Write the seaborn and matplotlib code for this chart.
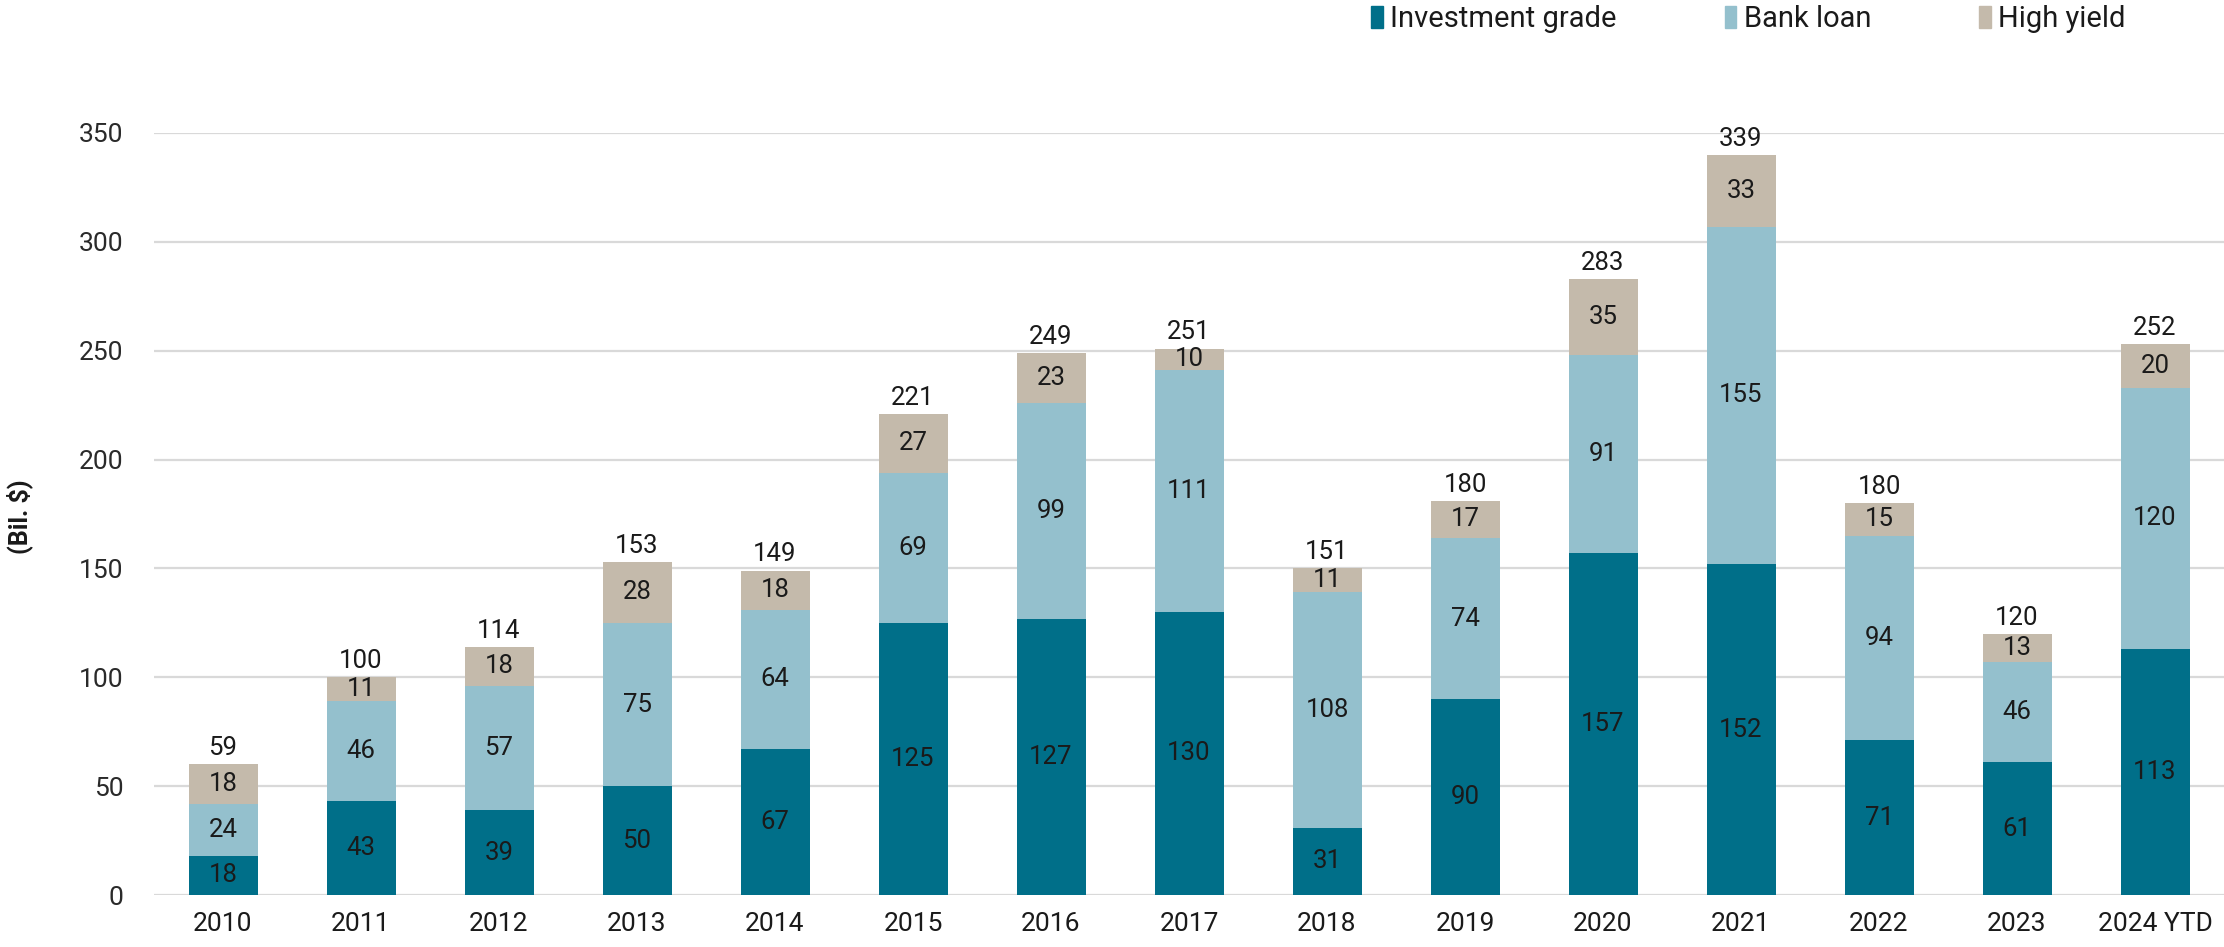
import numpy as np
import pandas as pd
import matplotlib
matplotlib.use("Agg")
import matplotlib.pyplot as plt
import matplotlib.patches as mpatches
import seaborn as sns

years = ["2010", "2011", "2012", "2013", "2014", "2015", "2016", "2017",
         "2018", "2019", "2020", "2021", "2022", "2023", "2024 YTD"]
investment_grade = [18, 43, 39, 50, 67, 125, 127, 130, 31, 90, 157, 152, 71, 61, 113]
bank_loan = [24, 46, 57, 75, 64, 69, 99, 111, 108, 74, 91, 155, 94, 46, 120]
high_yield = [18, 11, 18, 28, 18, 27, 23, 10, 11, 17, 35, 33, 15, 13, 20]
totals = [59, 100, 114, 153, 149, 221, 249, 251, 151, 180, 283, 339, 180, 120, 252]

C_IG = "#006f89"
C_BL = "#94c0cd"
C_HY = "#c4baab"

sns.set_theme(style="white")
plt.rcParams['font.family'] = ['Roboto', 'DejaVu Sans']

df = pd.DataFrame({"year": years, "ig": investment_grade, "bl": bank_loan, "hy": high_yield})
df["ig_bl"] = df["ig"] + df["bl"]
df["all"] = df["ig_bl"] + df["hy"]

fig = plt.figure(figsize=(22.24, 9.47), dpi=100)
ax = fig.add_axes([154 / 2224, 52 / 947, 1 - 154 / 2224, (895 - 133) / 947])

# stacked bars: draw cumulative heights from the top down
w = 0.5
sns.barplot(data=df, x="year", y="all", color=C_HY, width=w, saturation=1,
            edgecolor="none", ax=ax)
sns.barplot(data=df, x="year", y="ig_bl", color=C_BL, width=w, saturation=1,
            edgecolor="none", ax=ax)
sns.barplot(data=df, x="year", y="ig", color=C_IG, width=w, saturation=1,
            edgecolor="none", ax=ax)

fs = 18.5
txt_col = "#1a1a1a"
kw = dict(ha="center", va="center", fontsize=fs, color=txt_col)
for i in range(len(years)):
    ig, bl, hy = investment_grade[i], bank_loan[i], high_yield[i]
    ax.text(i, ig / 2, str(ig), **kw)
    ax.text(i, ig + bl / 2, str(bl), **kw)
    ax.text(i, ig + bl + hy / 2, str(hy), **kw)
    ax.annotate(str(totals[i]), (i, ig + bl + hy), xytext=(0, 3),
                textcoords="offset points", ha="center", va="bottom",
                fontsize=fs, color=txt_col, annotation_clip=False)

ax.set_xlim(-0.5, len(years) - 0.5)
ax.set_ylim(0, 350)
ax.set_yticks(np.arange(0, 351, 50))
ax.yaxis.grid(True, color="#d9d9d9", linewidth=1.6)
ax.set_axisbelow(True)
for s in ax.spines.values():
    s.set_visible(False)
ax.tick_params(axis="x", length=0, pad=12, labelsize=19, labelcolor=txt_col)
ax.tick_params(axis="y", length=0, pad=22, labelsize=19, labelcolor="#2a2a2a")
ax.set_xlabel("")
ax.set_ylabel("")
fig.text(20 / 2224, 1 - 517 / 947, "(Bil. $)", rotation=90, ha="center",
         va="center", fontsize=18, fontweight="bold", color="#1a1a1a")

handles = [mpatches.Patch(color=C_IG, label="Investment grade"),
           mpatches.Patch(color=C_BL, label="Bank loan"),
           mpatches.Patch(color=C_HY, label="High yield")]
leg = fig.legend(handles=handles, loc="upper left", bbox_to_anchor=(1345 / 2224, 1.022),
                 ncol=3, frameon=False, fontsize=21, handlelength=0.4,
                 handleheight=0.8, handletextpad=0.25, columnspacing=3.7)
for t in leg.get_texts():
    t.set_color(txt_col)

fig.savefig("out.png", dpi=100, facecolor="white")
